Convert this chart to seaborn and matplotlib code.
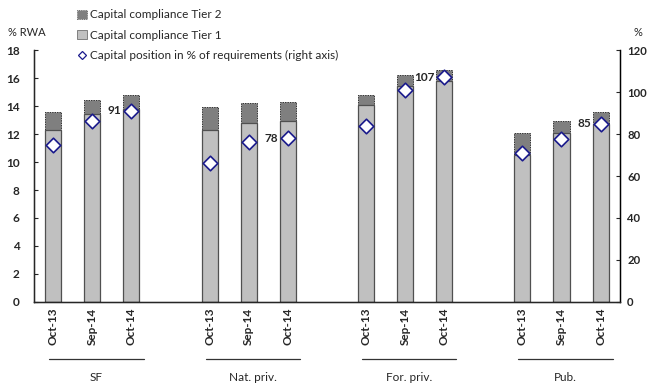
import pandas as pd
import matplotlib.pyplot as plt
import seaborn as sns
import numpy as np
from matplotlib.patches import Patch
from matplotlib.lines import Line2D
import matplotlib.transforms as mtransforms


groups = ["SF", "Nat. priv.", "For. priv.", "Pub."]
dates = ["Oct-13", "Sep-14", "Oct-14"]

# % RWA
tier1 = [12.3, 13.4, 13.8,
         12.3, 12.8, 12.9,
         14.1, 15.4, 15.8,
         10.5, 12.05, 12.75]
total = [13.6, 14.4, 14.8,
         13.9, 14.2, 14.3,
         14.8, 16.2, 16.6,
         12.05, 12.9, 13.55]
# capital position in % of requirements (right axis)
position = [75, 86, 91,
            66, 76, 78,
            84, 101, 107,
            71, 77.5, 85]
labelled = ["91", "78", "107", "85"]  # last date of each group

sns.set_style("white")
plt.rcParams['font.family'] = ['Lato', 'DejaVu Sans']

# numeric x: a gap of one slot between groups
df = pd.DataFrame({
    "group": np.repeat(groups, len(dates)),
    "date": dates * len(groups),
    "tier1": tier1,
    "total": total,
    "position": position,
})
df["x"] = [g * (len(dates) + 1) + i for g in range(len(groups)) for i in range(len(dates))]

fig = plt.figure(figsize=(6.48, 3.85), dpi=100)
ax = fig.add_axes([0.052, 0.2156, 0.905, 0.6545])

# total first (Tier 2 colour), then Tier 1 drawn over it
sns.barplot(data=df, x="x", y="total", native_scale=True, width=0.41,
            color="#7f7f7f", saturation=1, edgecolor="#333333",
            linewidth=0.7, linestyle=(0, (1.5, 1)), ax=ax)
sns.barplot(data=df, x="x", y="tier1", native_scale=True, width=0.41,
            color="#c0c0c0", saturation=1, edgecolor="#505050",
            linewidth=0.9, ax=ax)

ax.set_xlim(-0.5, df["x"].max() + 0.5)
ax.set_ylim(0, 18)
ax.set_yticks(range(0, 19, 2))
ax.set_xticks(df["x"])
ax.set_xticklabels(df["date"], rotation=90, fontsize=8.5, fontweight="bold")
ax.tick_params(axis="x", length=0, pad=4)
ax.tick_params(axis="y", length=3, direction="in", labelsize=8.5, pad=10)
for t in ax.get_yticklabels():
    t.set_fontweight("bold")
ax.set_xlabel("")
ax.set_ylabel("")
ax.spines["top"].set_visible(False)
for s in ["left", "bottom", "right"]:
    ax.spines[s].set_color("black")
    ax.spines[s].set_linewidth(1)

ax2 = ax.twinx()
sns.scatterplot(data=df, x="x", y="position", marker="D", s=55,
                color="white", edgecolor="#1a1a8c", linewidth=1.2,
                zorder=5, ax=ax2, clip_on=False)
ax2.set_ylim(0, 120)
ax2.set_yticks(range(0, 121, 20))
ax2.tick_params(axis="y", length=3, direction="in", labelsize=8.2, pad=5)
for t in ax2.get_yticklabels():
    t.set_fontweight("bold")
ax2.set_ylabel("")
ax2.spines["top"].set_visible(False)
ax2.spines["right"].set_color("black")

last = df[df["date"] == dates[-1]]
for (_, r), lab in zip(last.iterrows(), labelled):
    ax2.annotate(lab, (r["x"], r["position"]), xytext=(-7, 0),
                 textcoords="offset points", ha="right", va="center",
                 fontsize=8.5, fontweight="bold")

# group lines and labels under the date ticks
trans = mtransforms.blended_transform_factory(ax.transData, ax.transAxes)
for g, name in enumerate(groups):
    xs = df.loc[df["group"] == name, "x"]
    x0, x1 = xs.min() - 0.1, xs.max() + 0.31
    ax.plot([x0, x1], [-0.226, -0.226], color="#333333",
            lw=0.9, transform=trans, clip_on=False)
    ax.text((x0 + x1) / 2, -0.30, name, ha="center", va="center", fontsize=8.5,
            transform=trans)

fig.text(0.012, 0.915, "% RWA", fontsize=8, ha="left", va="center")
fig.text(0.978, 0.915, "%", fontsize=8, ha="left", va="center")

handles = [
    Patch(facecolor="#7f7f7f", edgecolor="#555555", linestyle=":", linewidth=0.6),
    Patch(facecolor="#c0c0c0", edgecolor="#707070", linewidth=0.6),
    Line2D([], [], marker="D", ls="none", markersize=4.5,
           markerfacecolor="white", markeredgecolor="#1a1a8c", markeredgewidth=0.9),
]
fig.legend(handles, ["Capital compliance Tier 2", "Capital compliance Tier 1",
                     "Capital position in % of requirements (right axis)"],
           loc="upper left", bbox_to_anchor=(0.112, 0.988), frameon=False,
           fontsize=8.5, handlelength=0.8, handleheight=0.8, handletextpad=0.3,
           labelspacing=0.8, borderaxespad=0)

fig.savefig("out.png", dpi=100)
